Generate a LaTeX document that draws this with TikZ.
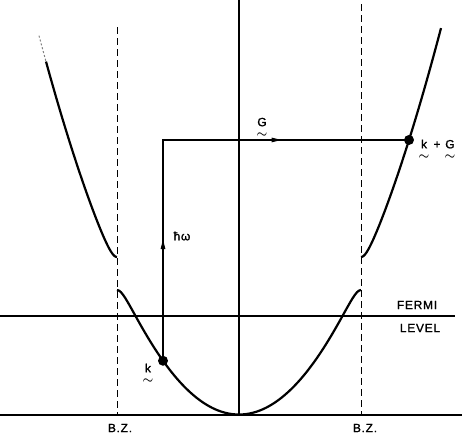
\documentclass[tikz,border=0pt]{standalone}
\usepackage{amsmath}
\usepackage{fontspec}
\setmainfont{Liberation Sans}
\usetikzlibrary{arrows.meta}
\newcommand{\uvec}[1]{\ensuremath{\underset{\raisebox{-3.5pt}{$\boldsymbol{\sim}$}}{\text{#1}}}}

\begin{document}
\begin{tikzpicture}[x=1pt, y=-1pt, >={Latex[length=12pt,width=5pt]},
    band/.style={line width=2.2pt},
    axis/.style={line width=1.1pt},
    bz/.style={line width=1pt, dash pattern=on 7pt off 4pt},
    dot/.style={circle, fill=black, inner sep=0pt, minimum size=10pt},
    lbl/.style={font=\fontsize{12}{13}\selectfont\addfontfeature{LetterSpace=6,FakeBold=1.2}, inner sep=1pt},
    declare function={ea(\k)=0.944*\k*\k; eb(\k)=0.944*(abs(\k)-2.44)^2;
      elo(\k)=414-50*(ea(\k)+eb(\k))+100*sqrt(((ea(\k)-eb(\k))/2)^2+0.0272);
      ehi(\k)=414-50*(ea(\k)+eb(\k))-100*sqrt(((ea(\k)-eb(\k))/2)^2+0.0272);}]
    \useasboundingbox (0,0) rectangle (462,439);

    % 1. Truc nang luong, muc Fermi va day
    \draw[axis] (239,0) -- (239,415);
    \draw[axis] (0,415) -- (462,415);
    \draw[axis] (0,316) -- (455,316);

    % 2. Bien vung Brillouin (net dut)
    \draw[bz] (117,27) -- (117,415);
    \draw[bz] (361,4) -- (361,415);

    % 3. Vung nang luong duoi
    \draw[band, domain=117:361, samples=121] plot (\x, {elo((\x-239)/100)});

    % 4. Vung nang luong tren (hai nhanh)
    \draw[band, domain=361:441, samples=60] plot (\x, {ehi((\x-239)/100)});
    \draw[band, domain=46:117, samples=60] plot (\x, {ehi((\x-239)/100)});
    \draw[line width=1pt, gray, dash pattern=on 2pt off 2pt, domain=39:46, samples=8]
        plot (\x, {ehi((\x-239)/100)});

    % 5. Chuyen doi k -> k + G
    \coordinate (k) at (163, {elo(-0.76)});
    \coordinate (kG) at (409, {ehi(1.70)});
    \coordinate (corner) at (k |- kG);
    \path (k) -- (corner) coordinate[pos=0.56] (hwtip);
    \path (corner) -- (kG) coordinate[pos=0.49] (Gtip);
    \draw[axis] (k) -- (corner) -- (kG);
    \draw[axis, ->] (k) -- (hwtip);
    \draw[axis, ->] (corner) -- (Gtip);

    \node[dot] (kdot) at (k) {};
    \node[dot] (kGdot) at (kG) {};

    % 6. Nhan
    \node[lbl] (klbl) at (148,374) {\uvec{k}};
    \node[lbl] (kglbl) at (437,150) {\uvec{k} + \uvec{G}};
    \node[lbl] (glbl) at (262,128) {\uvec{G}};
    \node[lbl] (hw) at (182,236) {ħω};
    \node[lbl] (fermi) at (417,305) {FERMI};
    \node[lbl] (level) at (420,328) {LEVEL};
    \node[lbl] (bzl) at (120,428) {B.Z.};
    \node[lbl] (bzr) at (365,428) {B.Z.};
\end{tikzpicture}
\end{document}
